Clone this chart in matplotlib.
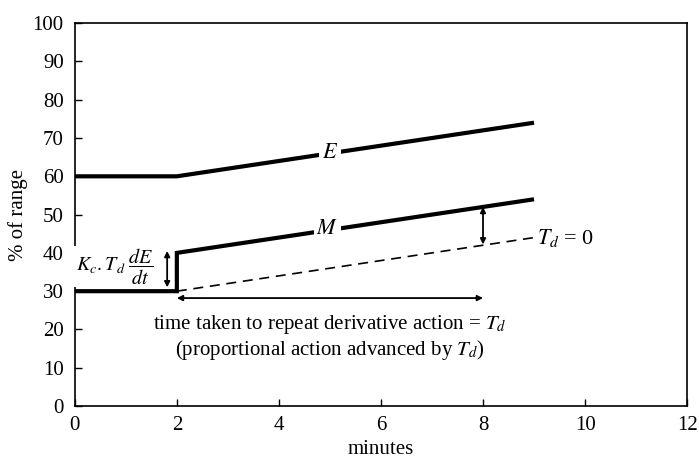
import matplotlib
matplotlib.use("Agg")
import matplotlib.pyplot as plt

plt.rcParams['font.family'] = ['Liberation Serif', 'DejaVu Serif']
plt.rcParams['mathtext.fontset'] = 'stix'

# Data
e_x = [0, 2, 9]
e_y = [60, 60, 74]
m_x = [0, 2, 2, 9]
m_y = [30, 30, 40, 54]
p_x = [2, 9]
p_y = [30, 44]
x_ticks = [0, 2, 4, 6, 8, 10, 12]
y_ticks = [0, 10, 20, 30, 40, 50, 60, 70, 80, 90, 100]

fig = plt.figure(figsize=(6.99, 4.63), dpi=100)
ax = fig.add_axes([0.107, 0.123, 0.876, 0.827])

ax.plot(e_x, e_y, color='black', lw=3, solid_capstyle='butt', zorder=3)
ax.plot(m_x, m_y, color='black', lw=3, solid_capstyle='butt', solid_joinstyle='miter', zorder=3)
ax.plot(p_x, p_y, color='black', lw=1.2, ls=(0, (6, 4)), zorder=3)

ax.set_xlim(0, 12)
ax.set_ylim(0, 100)
ax.set_xticks(x_ticks)
ax.set_yticks(y_ticks)
ax.tick_params(direction='in', length=5, labelsize=15, width=1)
ax.tick_params(axis='x', pad=7)
ax.tick_params(axis='y', pad=8)
for s in ax.spines.values():
    s.set_linewidth(1.2)

ax.set_xlabel('minutes', fontsize=15, labelpad=4)
ax.set_ylabel('% of range', fontsize=15, labelpad=3)

# Line labels
ax.text(5.0, 66.0, '$E$', fontsize=16, ha='center', va='center',
        bbox=dict(facecolor='white', edgecolor='none', pad=2), zorder=4)
ax.text(4.95, 46.0, '$M$', fontsize=16, ha='center', va='center',
        bbox=dict(facecolor='white', edgecolor='none', pad=2), zorder=4)
ax.text(9.05, 44.0, '$T_d$ = 0', fontsize=16, ha='left', va='center', zorder=4)

# Arrows
arrow = dict(arrowstyle='<|-|>', color='black', lw=1.3, mutation_scale=8, shrinkA=0, shrinkB=0)
ax.annotate('', xy=(1.81, 40.5), xytext=(1.81, 31.0), arrowprops=arrow, zorder=4)
ax.annotate('', xy=(8.0, 52.0), xytext=(8.0, 42.2), arrowprops=arrow, zorder=4)
ax.annotate('', xy=(2.0, 28.2), xytext=(8.0, 28.2), arrowprops=arrow, zorder=4)

ax.text(-0.02, 36.4, r'$\,K_c.T_d\ \dfrac{dE}{dt}$', fontsize=14.5, ha='left', va='center',
        bbox=dict(facecolor='white', edgecolor='none', pad=0.5), zorder=2.7, clip_on=False)

ax.text(5.0, 21.2, 'time taken to repeat derivative action = $T_d$', fontsize=15,
        ha='center', va='center')
ax.text(5.0, 14.6, '(proportional action advanced by $T_d$)', fontsize=15,
        ha='center', va='center')

fig.savefig('out.png', dpi=100)
